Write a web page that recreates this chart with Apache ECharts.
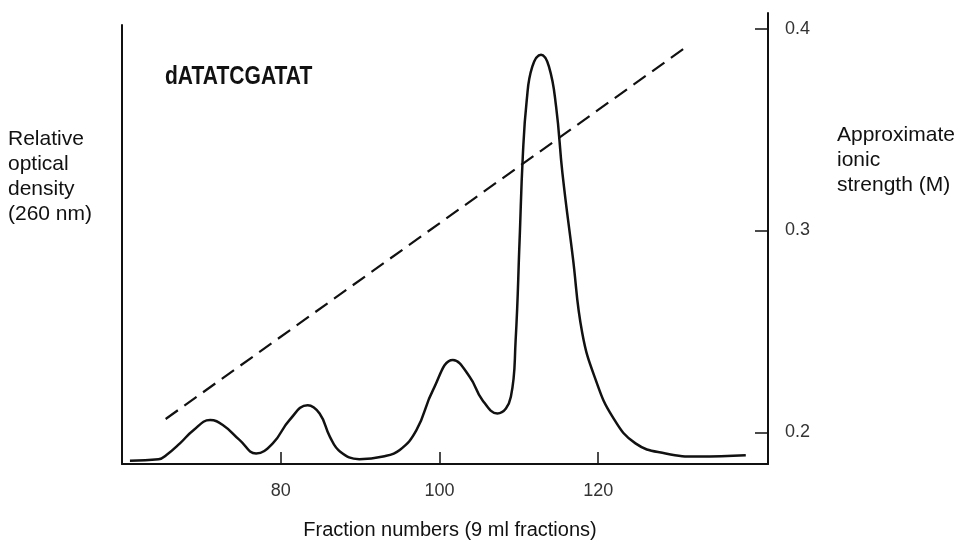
<!DOCTYPE html>
<html>
<head>
<meta charset="utf-8">
<script src="https://cdn.jsdelivr.net/npm/echarts@6/dist/echarts.min.js"></script>
<style>
  html, body { margin: 0; padding: 0; background: #fff; }
  #chart { width: 963px; height: 541px; }
</style>
</head>
<body>
<div id="chart"></div>
<script>
// elution profile (fraction number vs relative OD at 260 nm, arbitrary units 0-100)
var fractionNo = [61.0, 64.6, 65.6, 67.3, 69.0, 71.1, 72.7, 74.8, 76.9, 79.0, 81.1, 83.4, 84.9, 86.2, 87.5,
  89.9, 92.9, 95.0, 97.1, 99.2, 101.7, 103.8, 105.4, 107.3, 109.0, 109.6, 110.1, 110.5, 111.0, 111.7,
  112.8, 113.8, 114.7, 115.5, 116.8, 118.0, 119.7, 121.8, 124.7, 128.5, 132.7, 138.6];
var opticalDensity = [0.75, 1.07, 2.05, 4.7, 7.7, 10.0, 8.9, 5.5, 2.4, 4.7, 10.0, 13.4, 11.5, 6.2, 2.8,
  1.1, 1.7, 3.2, 7.7, 16.9, 23.7, 19.9, 14.6, 11.5, 15.3, 28.2, 51.0, 70.0, 82.9, 90.5,
  93.2, 90.5, 81.4, 66.2, 47.2, 29.8, 19.1, 10.8, 4.7, 2.4, 1.7, 2.0];

// salt gradient (dashed line, right axis)
var gradientFraction = [65.5, 131.0];
var gradientStrength = [0.2066, 0.3906];

var xTicks = [80, 100, 120];
var yTicks = [0.2, 0.3, 0.4];

var ink = "#111";
var chart = echarts.init(document.getElementById("chart"));

var profile = fractionNo.map(function (f, i) { return [f, opticalDensity[i]]; });
var gradient = gradientFraction.map(function (f, i) { return [f, gradientStrength[i]]; });

var option = {
  backgroundColor: "#fff",
  animation: false,
  grid: [
    { left: 122, right: 195, top: 13, bottom: 77, outerBoundsMode: "none" },
    { left: 122, right: 195, top: 25, bottom: 77, outerBoundsMode: "none" }
  ],
  xAxis: [
    {
      gridIndex: 0,
      type: "value",
      min: 60,
      max: 141.4,
      axisLine: { onZero: false, lineStyle: { color: ink, width: 2 } },
      axisTick: { inside: true, length: 12, customValues: xTicks, lineStyle: { color: ink, width: 1.5 } },
      axisLabel: {
        customValues: xTicks,
        margin: 18,
        color: "#333",
        fontSize: 18,
        fontFamily: "Liberation Sans, sans-serif"
      },
      splitLine: { show: false },
      name: "Fraction numbers (9 ml fractions)",
      nameLocation: "middle",
      nameGap: 56,
      nameTextStyle: { color: ink, fontSize: 20, padding: [0, 0, 0, 10], fontFamily: "Liberation Sans, sans-serif" }
    },
    { gridIndex: 1, type: "value", min: 60, max: 141.4, show: false }
  ],
  yAxis: [
    {
      gridIndex: 1,
      type: "value",
      min: 0,
      max: 100,
      axisLine: { show: true, onZero: false, lineStyle: { color: ink, width: 2 } },
      axisTick: { show: false },
      axisLabel: { show: false },
      splitLine: { show: false }
    },
    {
      gridIndex: 0,
      type: "value",
      position: "right",
      min: 0.1843,
      max: 0.4077,
      axisLine: { show: true, onZero: false, lineStyle: { color: ink, width: 2 } },
      axisTick: { inside: true, length: 13, customValues: yTicks, lineStyle: { color: ink, width: 1.5 } },
      axisLabel: {
        customValues: yTicks,
        margin: 17,
        color: "#333",
        fontSize: 18,
        padding: [0, 0, 6, 0],
        fontFamily: "Liberation Sans, sans-serif",
        formatter: function (v) { return v.toFixed(1); }
      },
      splitLine: { show: false }
    }
  ],
  graphic: [
    {
      type: "text", left: 165, top: 64, scaleX: 0.81,
      style: { text: "dATATCGATAT", fill: ink, fontSize: 26, fontWeight: "bold",
        fontFamily: "Liberation Sans, sans-serif" }
    },
    {
      type: "text", left: 8, top: 127,
      style: { text: "Relative\noptical\ndensity\n(260 nm)", fill: ink, fontSize: 21, lineHeight: 25,
        fontFamily: "Liberation Sans, sans-serif" }
    },
    {
      type: "text", left: 837, top: 123,
      style: { text: "Approximate\nionic\nstrength (M)", fill: ink, fontSize: 21, lineHeight: 25,
        fontFamily: "Liberation Sans, sans-serif" }
    }
  ],
  series: [
    {
      name: "OD 260",
      type: "line",
      xAxisIndex: 1,
      yAxisIndex: 0,
      data: profile,
      smooth: 0.45,
      showSymbol: false,
      lineStyle: { color: ink, width: 2.5 }
    },
    {
      name: "Ionic strength",
      type: "line",
      xAxisIndex: 0,
      yAxisIndex: 1,
      data: gradient,
      showSymbol: false,
      lineStyle: { color: ink, width: 2.2, type: [15, 8] }
    }
  ]
};

chart.setOption(option);
</script>
</body>
</html>
